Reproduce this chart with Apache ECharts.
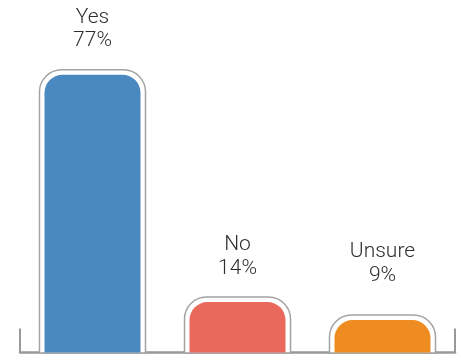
<!DOCTYPE html>
<html>
<head>
<meta charset="utf-8">
<script src="https://cdn.jsdelivr.net/npm/echarts@6/dist/echarts.min.js"></script>
<style>
  html, body { margin: 0; padding: 0; background: #fff; }
  #chart { width: 461px; height: 360px; }
</style>
</head>
<body>
<div id="chart"></div>
<script>
// Survey answers and their shares (percent)
const categories = ['Yes', 'No', 'Unsure'];
const percents = [77, 14, 9];
const barColors = ['#4a89c0', '#e96a5c', '#ef8c21'];

// Bar geometry (pixels)
const BAR_W = 96;        // coloured bar width
const PAD = 5;           // gap between bar and its outlined frame
const R_IN = 18;         // bar corner radius
const R_OUT = 22;        // frame corner radius
const LABEL_GAP = 22;    // space between label block and bar top
const LABEL_FLOOR = 287; // labels never sit lower than this line

const chart = echarts.init(document.getElementById('chart'), null, { renderer: 'canvas' });

function renderItem(params, api) {
  const i = params.dataIndex;
  const v = api.value(1);
  const top = api.coord([api.value(0), v]);
  const base = api.coord([api.value(0), 0]);
  const cx = top[0];
  const x = cx - BAR_W / 2;
  const h = base[1] - top[1];
  const labelBottom = Math.min(top[1] - LABEL_GAP, LABEL_FLOOR);
  return {
    type: 'group',
    children: [
      {
        type: 'rect',
        shape: { x: x - PAD, y: top[1] - PAD, width: BAR_W + 2 * PAD, height: h + PAD + 0.5, r: [R_OUT, R_OUT, 0, 0] },
        style: { fill: '#ffffff', stroke: '#a3a3a3', lineWidth: 1.5 }
      },
      {
        type: 'rect',
        shape: { x: x, y: top[1], width: BAR_W, height: h, r: [R_IN, R_IN, 0, 0] },
        style: { fill: barColors[i] }
      },
      {
        type: 'text',
        x: cx,
        y: labelBottom,
        style: {
          text: categories[i] + '\n' + v + '%',
          align: 'center',
          verticalAlign: 'bottom',
          fontFamily: 'Roboto, "Liberation Sans", sans-serif',
          fontWeight: 300,
          fontSize: 21,
          lineHeight: 23.5,
          fill: '#2e2e2e'
        }
      }
    ]
  };
}

chart.setOption({
  animation: false,
  grid: { left: 20, right: 6, top: 64, bottom: 2 },
  xAxis: {
    type: 'category',
    data: categories,
    boundaryGap: true,
    axisLine: { show: true, lineStyle: { color: '#999999', width: 2.5 } },
    axisTick: {
      show: true,
      inside: true,
      length: 24,
      interval: function (index) { return index === 0; },
      lineStyle: { color: '#999999', width: 2 }
    },
    axisLabel: { show: false },
    splitLine: { show: false }
  },
  yAxis: {
    type: 'value',
    // the floor sits a little below zero so bars stand clear of the axis line
    min: -1.5,
    max: 80,
    show: false,
    splitLine: { show: false }
  },
  series: [{
    type: 'custom',
    renderItem: renderItem,
    clip: false,
    encode: { x: 0, y: 1 },
    data: categories.map(function (c, i) { return [i, percents[i]]; })
  }]
});
</script>
</body>
</html>
